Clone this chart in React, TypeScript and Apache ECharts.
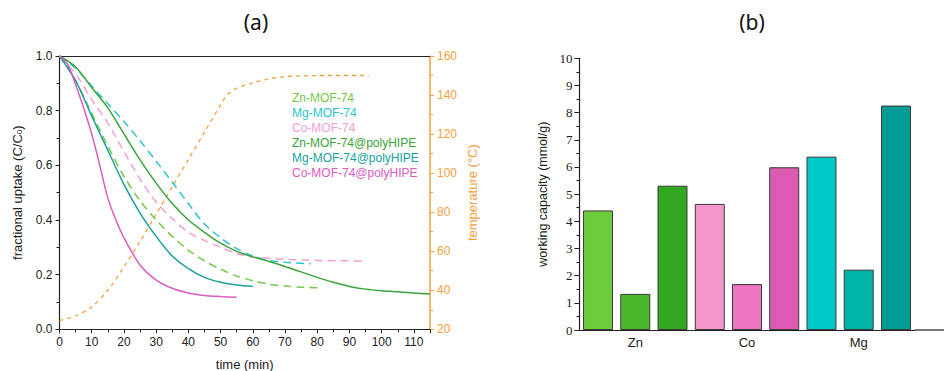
import React, { useEffect, useRef } from "react";
import * as echarts from "echarts";

// ---- (a) uptake curves ----
const znTimes = [0, 5, 10, 15, 20, 25, 30, 35, 40, 45, 50, 55, 60, 65, 70, 75, 80];
const znValues = [1, 0.91, 0.79, 0.67, 0.56, 0.47, 0.4, 0.34, 0.29, 0.25, 0.22, 0.195, 0.178, 0.165, 0.158, 0.154, 0.152];

const mgTimes = [0, 5, 10, 15, 20, 25, 30, 35, 40, 45, 50, 55, 60, 65, 70, 78];
const mgValues = [1, 0.955, 0.89, 0.825, 0.76, 0.69, 0.615, 0.538, 0.46, 0.385, 0.335, 0.295, 0.268, 0.252, 0.245, 0.24];

const coTimes = [0, 5, 10, 15, 20, 25, 30, 35, 40, 45, 50, 55, 60, 70, 80, 95];
const coValues = [1, 0.935, 0.84, 0.755, 0.65, 0.55, 0.465, 0.405, 0.355, 0.325, 0.3, 0.278, 0.265, 0.256, 0.252, 0.25];

const znPolyTimes = [0, 5, 10, 15, 20, 25, 30, 35, 40, 45, 50, 55, 60, 65, 70, 75, 80, 85, 90, 95, 100, 105, 110, 115];
const znPolyValues = [1, 0.96, 0.885, 0.81, 0.715, 0.62, 0.535, 0.46, 0.4, 0.355, 0.315, 0.285, 0.265, 0.248, 0.23, 0.21, 0.19, 0.172, 0.157, 0.147, 0.141, 0.137, 0.133, 0.129];

const mgPolyTimes = [0, 5, 10, 15, 20, 25, 30, 35, 40, 45, 50, 55, 60];
const mgPolyValues = [1, 0.91, 0.78, 0.655, 0.53, 0.425, 0.34, 0.268, 0.222, 0.19, 0.172, 0.162, 0.157];

const coPolyTimes = [0, 2.5, 5, 7.5, 10, 12.5, 15, 17.5, 20, 25, 30, 35, 40, 45, 50, 55];
const coPolyValues = [1, 0.97, 0.895, 0.81, 0.715, 0.6, 0.48, 0.4, 0.335, 0.235, 0.18, 0.15, 0.133, 0.124, 0.12, 0.117];

const tempTimes = [0, 5, 10, 15, 20, 25, 30, 35, 40, 45, 50, 52, 55, 60, 65, 70, 75, 80, 96];
const tempValues = [24.5, 26.8, 31.5, 40, 52, 65, 79, 93, 107, 121, 135, 140, 143.5, 146.2, 148.3, 149.4, 149.8, 150, 150];

const lineNames = [
  "Zn-MOF-74",
  "Mg-MOF-74",
  "Co-MOF-74",
  "Zn-MOF-74@polyHIPE",
  "Mg-MOF-74@polyHIPE",
  "Co-MOF-74@polyHIPE",
];
const lineColors = ["#74c94a", "#2cc5cc", "#f2a0d4", "#3aa33a", "#1a9f9f", "#d95cc0"];
const tempColor = "#f5a040";

// ---- (b) working capacity ----
const barCategories = ["Zn-1", "Zn-2", "Zn-3", "Co-1", "Co-2", "Co-3", "Mg-1", "Mg-2", "Mg-3"];
const barValues = [4.4, 1.33, 5.31, 4.64, 1.69, 5.99, 6.38, 2.22, 8.26];
const barColors = ["#6ccc3c", "#4cb72c", "#33a722", "#f596cd", "#ee75c0", "#dc5cb4", "#00c8c6", "#00b4a8", "#009b94"];

const pair = (ts: number[], vs: number[]) => ts.map((t, i) => [t, vs[i]]);

export default function App() {
  const ref = useRef<HTMLDivElement>(null);
  useEffect(() => {
    if (!ref.current) return;
    const chart = echarts.init(ref.current, undefined, { renderer: "svg" });
    const font = "Liberation Sans";
    const lineData = [
      pair(znTimes, znValues),
      pair(mgTimes, mgValues),
      pair(coTimes, coValues),
      pair(znPolyTimes, znPolyValues),
      pair(mgPolyTimes, mgPolyValues),
      pair(coPolyTimes, coPolyValues),
    ];
    const dashed = [true, true, true, false, false, false];
    const lineSeries: any[] = lineData.map((d, i) => ({
      name: lineNames[i],
      type: "line",
      xAxisIndex: 0,
      yAxisIndex: 0,
      data: d,
      showSymbol: false,
      smooth: 0.3,
      lineStyle: { color: lineColors[i], width: 1.5, type: dashed[i] ? [8, 5] : "solid" },
      itemStyle: { color: lineColors[i] },
      z: dashed[i] ? 2 : 3,
    }));
    lineSeries.push({
      name: "temperature",
      type: "line",
      xAxisIndex: 0,
      yAxisIndex: 1,
      data: pair(tempTimes, tempValues),
      showSymbol: false,
      smooth: 0.3,
      lineStyle: { color: tempColor, width: 1.3, type: [4, 4] },
      itemStyle: { color: tempColor },
      z: 1,
    });

    const axisBlack = { onZero: false, lineStyle: { color: "#222", width: 1.2 } };
    chart.setOption({
      animation: false,
      textStyle: { fontFamily: font },
      grid: [
        { left: 59.5, top: 56, width: 370.5, height: 273.3, outerBoundsMode: "none" },
        { left: 579.4, top: 58.3, width: 335.2, height: 271.7, outerBoundsMode: "none" },
      ],
      legend: {
        left: 282,
        top: 87,
        orient: "vertical",
        itemGap: 3,
        itemWidth: 0,
        itemHeight: 12,
        icon: "rect",
        selectedMode: false,
        data: lineNames.map((n, i) => ({ name: n, textStyle: { color: lineColors[i] } })),
        textStyle: { fontSize: 12, fontFamily: font },
      },
      xAxis: [
        {
          type: "value",
          gridIndex: 0,
          min: 0,
          max: 115,
          interval: 10,
          name: "time (min)",
          nameLocation: "middle",
          nameGap: 29,
          nameTextStyle: { fontSize: 13, color: "#222" },
          axisLine: axisBlack,
          axisTick: { show: true, length: 4, lineStyle: { color: "#222" } },
          minorTick: { show: true, splitNumber: 2, length: 3, lineStyle: { color: "#222" } },
          axisLabel: { fontSize: 12, color: "#222", margin: 7 },
          splitLine: { show: false },
        },
        {
          type: "value",
          gridIndex: 0,
          position: "top",
          min: 0,
          max: 115,
          axisLine: { show: true, onZero: false, lineStyle: { color: "#222", width: 1.2 } },
          axisTick: { show: false },
          axisLabel: { show: false },
          splitLine: { show: false },
        },
        {
          type: "category",
          gridIndex: 1,
          data: barCategories,
          axisLine: axisBlack,
          axisTick: { show: false },
          axisLabel: {
            fontSize: 13,
            color: "#222",
            margin: 6,
            interval: (i: number) => i % 3 === 1,
            formatter: (v: string) => v.split("-")[0],
          },
          splitLine: { show: false },
        },
      ],
      yAxis: [
        {
          type: "value",
          gridIndex: 0,
          min: 0,
          max: 1,
          interval: 0.2,
          name: "fractional uptake (C/C{sub|0})",
          nameLocation: "middle",
          nameGap: 36,
          nameTextStyle: {
            fontSize: 13,
            color: "#222",
            rich: { sub: { fontSize: 8, verticalAlign: "bottom", color: "#222", padding: [4, 0, 0, 0] } },
          },
          axisLine: { show: true, ...axisBlack },
          axisTick: { show: true, length: 4, lineStyle: { color: "#222" } },
          minorTick: { show: true, splitNumber: 2, length: 3, lineStyle: { color: "#222" } },
          axisLabel: { fontSize: 12, color: "#222", margin: 7, formatter: (v: number) => v.toFixed(1) },
          splitLine: { show: false },
        },
        {
          type: "value",
          gridIndex: 0,
          position: "right",
          min: 20,
          max: 160,
          interval: 20,
          name: "temperature (°C)",
          nameLocation: "middle",
          nameGap: 36,
          nameRotate: 90,
          nameTextStyle: { fontSize: 13, color: tempColor },
          axisLine: { show: true, onZero: false, lineStyle: { color: tempColor, width: 1.5 } },
          axisTick: { show: true, length: 4, lineStyle: { color: tempColor } },
          minorTick: { show: true, splitNumber: 2, length: 3, lineStyle: { color: tempColor } },
          axisLabel: { fontSize: 12, color: tempColor, margin: 7 },
          splitLine: { show: false },
        },
        {
          type: "value",
          gridIndex: 1,
          min: 0,
          max: 10,
          interval: 1,
          name: "working capacity (mmol/g)",
          nameLocation: "middle",
          nameGap: 30,
          nameTextStyle: { fontSize: 12.5, color: "#222" },
          axisLine: { show: true, ...axisBlack },
          axisTick: { show: true, length: 5, lineStyle: { color: "#222" } },
          minorTick: { show: true, splitNumber: 2, length: 3, lineStyle: { color: "#222" } },
          axisLabel: { fontSize: 13, color: "#222", margin: 7, fontFamily: "Liberation Serif" },
          splitLine: { show: false },
        },
      ],
      series: [
        ...lineSeries,
        {
          type: "bar",
          xAxisIndex: 2,
          yAxisIndex: 2,
          barWidth: 30,
          data: barValues.map((v, i) => ({
            value: v,
            itemStyle: { color: barColors[i], borderColor: "#3a3a3a", borderWidth: 1 },
          })),
        },
      ],
      graphic: [
        { type: "text", x: 256, y: 11, style: { text: "(a)", font: "21px 'Noto Sans'", fill: "#111", textAlign: "center" } },
        { type: "text", x: 752, y: 11, style: { text: "(b)", font: "21px 'Noto Sans'", fill: "#111", textAlign: "center" } },
        { type: "line", shape: { x1: 914.6, y1: 330, x2: 944, y2: 330 }, style: { stroke: "#222", lineWidth: 1.2 } },
      ],
    });
    return () => chart.dispose();
  }, []);
  return <div ref={ref} style={{ width: 944, height: 371, position: "absolute", left: 0, top: 0 }} />;
}
